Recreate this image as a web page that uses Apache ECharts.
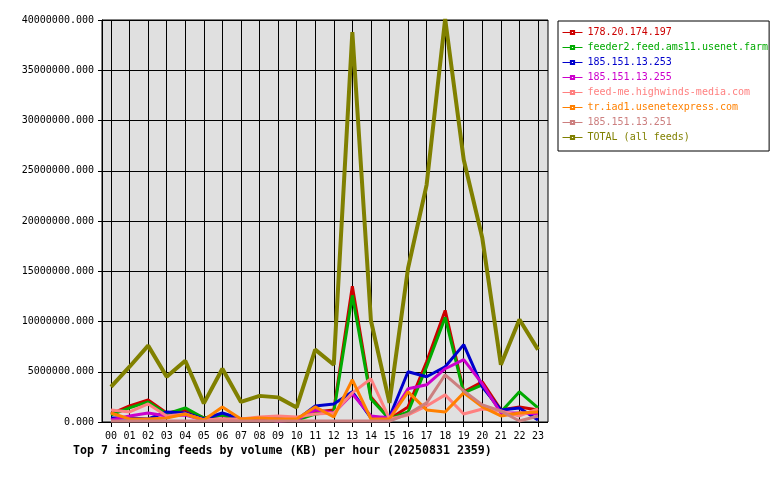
<!DOCTYPE html>
<html>
<head>
<meta charset="utf-8">
<script src="https://cdn.jsdelivr.net/npm/echarts@6/dist/echarts.min.js"></script>
<style>
html, body { margin: 0; padding: 0; background: #fff; }
#chart { width: 780px; height: 480px; }
</style>
</head>
<body>
<div id="chart"></div>
<script>
// hours of the day
var hours = ['00','01','02','03','04','05','06','07','08','09','10','11',
             '12','13','14','15','16','17','18','19','20','21','22','23'];

// KB per hour (millions)
var feed197   = [0.8, 1.6, 2.2, 0.9, 1.2, 0.4, 0.7, 0.2, 0.3, 0.3, 0.2, 1.0, 1.2, 13.5, 2.5, 0.3, 1.5, 6.0, 11.1, 3.0, 4.0, 1.2, 1.5, 1.2];
var feedAms11 = [0.7, 1.4, 2.0, 0.8, 1.4, 0.4, 0.7, 0.2, 0.3, 0.3, 0.2, 0.8, 1.0, 12.6, 2.3, 0.3, 1.0, 5.5, 10.4, 2.9, 3.7, 1.0, 3.0, 1.4];
var feed253   = [0.4, 0.4, 0.3, 1.0, 0.9, 0.3, 0.9, 0.3, 0.3, 0.3, 0.2, 1.6, 1.8, 3.0, 0.4, 0.5, 5.0, 4.5, 5.5, 7.7, 3.5, 1.2, 1.4, 0.2];
var feed255   = [0.2, 0.6, 0.9, 0.6, 0.7, 0.2, 0.3, 0.2, 0.3, 0.1, 0.2, 1.2, 0.9, 2.8, 0.6, 0.4, 3.3, 3.7, 5.3, 6.2, 3.8, 0.9, 0.9, 0.8];
var feedMe    = [1.2, 1.0, 1.8, 0.6, 0.8, 0.2, 0.3, 0.3, 0.5, 0.6, 0.5, 0.8, 0.9, 2.9, 4.3, 0.3, 0.7, 1.6, 2.7, 0.8, 1.3, 1.1, 0.6, 1.3];
var feedIad1  = [0.9, 0.3, 0.3, 0.4, 0.8, 0.2, 1.5, 0.3, 0.4, 0.3, 0.3, 1.5, 0.5, 4.2, 0.3, 0.3, 3.0, 1.2, 1.0, 2.9, 1.5, 0.6, 0.9, 1.0];
var feed251   = [0.1, 0.1, 0.1, 0.1, 0.1, 0.1, 0.1, 0.1, 0.1, 0.1, 0.1, 0.1, 0.1, 0.1, 0.1, 0.1, 0.8, 1.9, 4.7, 3.1, 1.7, 1.1, 0.1, 0.6];
var feedTotal = [3.5, 5.5, 7.6, 4.5, 6.1, 1.85, 5.3, 2.0, 2.6, 2.45, 1.45, 7.2, 5.7, 38.8, 10.1, 1.9, 15.3, 23.6, 40.1, 26.1, 18.3, 5.7, 10.2, 7.2];

var names  = ['178.20.174.197', 'feeder2.feed.ams11.usenet.farm', '185.151.13.253', '185.151.13.255',
              'feed-me.highwinds-media.com', 'tr.iad1.usenetexpress.com', '185.151.13.251', 'TOTAL (all feeds)'];
var colors = ['#cc0000', '#00aa00', '#0000cc', '#cc00cc', '#ff8080', '#ff8000', '#cc7f7f', '#808000'];
var values = [feed197, feedAms11, feed253, feed255, feedMe, feedIad1, feed251, feedTotal];

var mono = 'DejaVu Sans Mono';
var chart = echarts.init(document.getElementById('chart'));

var series = values.map(function (v, i) {
    return {
        name: names[i],
        type: 'line',
        xAxisIndex: 1,
        yAxisIndex: 1,
        data: v.map(function (x) { return x * 1000000; }),
        color: colors[i],
        symbol: 'emptyRect',
        showSymbol: false,
        clip: false,
        animation: false,
        lineStyle: { width: i === 7 ? 4 : 3, color: colors[i] }
    };
});

var option = {
    animation: false,
    title: {
        text: 'Top 7 incoming feeds by volume (KB) per hour (20250831 2359)',
        left: 73,
        top: 445,
        padding: 0,
        textStyle: { fontFamily: mono, fontWeight: 'bold', fontSize: 11.6, color: '#000' }
    },
    legend: {
        orient: 'vertical',
        left: 558,
        top: 21,
        padding: [4, 1, 6, 4],
        borderColor: '#000',
        borderWidth: 1,
        itemWidth: 20,
        itemHeight: 4,
        itemGap: 0,
        lineStyle: { width: 1 },
        itemStyle: { borderWidth: 1 },
        textStyle: { fontFamily: mono, fontSize: 10, lineHeight: 15 },
        data: names.map(function (n, i) {
            return { name: n, textStyle: { color: colors[i] } };
        })
    },
    grid: [
        { left: 102, right: 232, top: 20, bottom: 58, show: true,
          backgroundColor: '#e0e0e0', borderColor: '#000', borderWidth: 1 },
        { left: 111, right: 242, top: 20, bottom: 58 }
    ],
    xAxis: [
        { gridIndex: 0, type: 'value', min: 0, max: 1, show: false },
        {
            gridIndex: 1,
            type: 'category',
            boundaryGap: false,
            data: hours,
            axisLine: { show: false },
            axisTick: { show: true, length: 5, interval: 0, lineStyle: { color: '#000' } },
            splitLine: { show: true, interval: 0, lineStyle: { color: '#000', width: 1 } },
            axisLabel: { interval: 0, margin: 9, color: '#000', fontFamily: mono, fontSize: 10 }
        }
    ],
    yAxis: [
        {
            gridIndex: 0,
            type: 'value',
            min: 0,
            max: 40000000,
            interval: 5000000,
            axisLine: { show: true, lineStyle: { color: '#000' } },
            axisTick: { show: true, length: 4, lineStyle: { color: '#000' } },
            splitLine: { show: true, lineStyle: { color: '#000', width: 1 } },
            axisLabel: {
                margin: 8, color: '#000', fontFamily: mono, fontSize: 10,
                formatter: function (v) { return v.toFixed(3); }
            }
        },
        { gridIndex: 1, type: 'value', min: 0, max: 40000000, show: false }
    ],
    series: series
};

chart.setOption(option);
</script>
</body>
</html>
